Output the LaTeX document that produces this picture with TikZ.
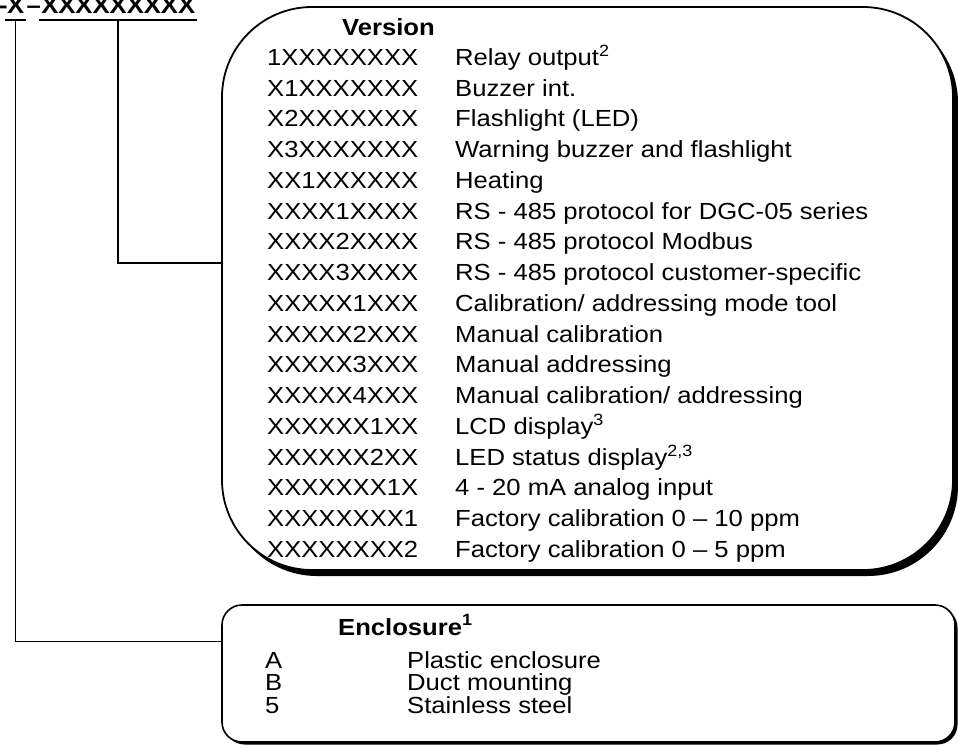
\documentclass[tikz,border=0pt]{standalone}
\usepackage{fontspec}
\setmainfont[FakeStretch=1.1]{Liberation Sans}
\usetikzlibrary{positioning}
\usetikzlibrary{shadows}
\tikzstyle{bigbox} = [rectangle, draw, fill=white, line width=1.8pt,
    minimum width=731pt, minimum height=563pt, rounded corners=90pt,
    drop shadow={shadow xshift=5pt, shadow yshift=-6pt, opacity=1, fill=black}]
\tikzstyle{smallbox} = [rectangle, draw, fill=white, line width=1.6pt,
    minimum width=733pt, minimum height=137pt, rounded corners=20pt,
    drop shadow={shadow xshift=2.5pt, shadow yshift=-2.5pt, opacity=1, fill=black}]
\tikzstyle{code} = [anchor=base west, inner sep=0pt]
\tikzstyle{head} = [code, font=\bfseries]
\tikzstyle{part} = [head, inner xsep=2pt, text depth=7pt]
\tikzstyle{line} = [draw, line width=1.6pt]
\begin{document}
\fontsize{23.3}{30}\selectfont
\begin{tikzpicture}[x=1pt, y=-1pt]
	\useasboundingbox (0,0) rectangle (958,744);
	% boxes
	\node [bigbox] (vers) at (587.5,288.5) {};
	\node [smallbox] (encl) at (588.5,673.5) {};
	% order code
	\node [head] (pre) at (-1,13) {-};
	\node [part, base right=-3pt of pre] (encx) {X};
	\node [head, base right=0pt of encx] (mid) {--};
	\node [part, base right=-2pt of mid] (verx) {XXXXXXXXX};
	\path [line] (encx.south west) -- (encx.south east);
	\path [line] (verx.south west) -- (verx.south east);
	% version
	\node [head] (vhead) at (342,35.3) {Version};
	\foreach \code/\desc [count=\i from 0] in {
		1XXXXXXXX/Relay output\textsuperscript{2},
		X1XXXXXXX/Buzzer int.,
		X2XXXXXXX/Flashlight (LED),
		X3XXXXXXX/Warning buzzer and flashlight,
		XX1XXXXXX/Heating,
		XXXX1XXXX/RS - 485 protocol for DGC-05 series,
		XXXX2XXXX/RS - 485 protocol Modbus,
		XXXX3XXXX/RS - 485 protocol customer-specific,
		XXXXX1XXX/{Calibration/ addressing mode tool},
		XXXXX2XXX/Manual calibration,
		XXXXX3XXX/Manual addressing,
		XXXXX4XXX/{Manual calibration/ addressing},
		XXXXXX1XX/LCD display\textsuperscript{3},
		XXXXXX2XX/LED status display\textsuperscript{2,3},
		XXXXXXX1X/4 - 20 mA analog input,
		XXXXXXXX1/Factory calibration 0 -- 10 ppm,
		XXXXXXXX2/Factory calibration 0 -- 5 ppm}
	{
		\node [code] (vc\i) at (267,65.3+30.75*\i) {\code};
		\node [code] (vd\i) at (455,65.3+30.75*\i) {\desc};
	}
	% enclosure
	\node [head] (ehead) at (338,635) {Enclosure\textsuperscript{1}};
	\foreach \code/\desc [count=\i from 0] in {A/Plastic enclosure, B/Duct mounting, 5/Stainless steel}
	{
		\node [code] (ec\i) at (265,668.3+22.5*\i) {\code};
		\node [code] (ed\i) at (407,668.3+22.5*\i) {\desc};
	}
	% connectors
	\path [line] (verx.south) |- (vers.176.32);
	\path [line] (encx.south) |- (encl.175.86);
\end{tikzpicture}
\end{document}
